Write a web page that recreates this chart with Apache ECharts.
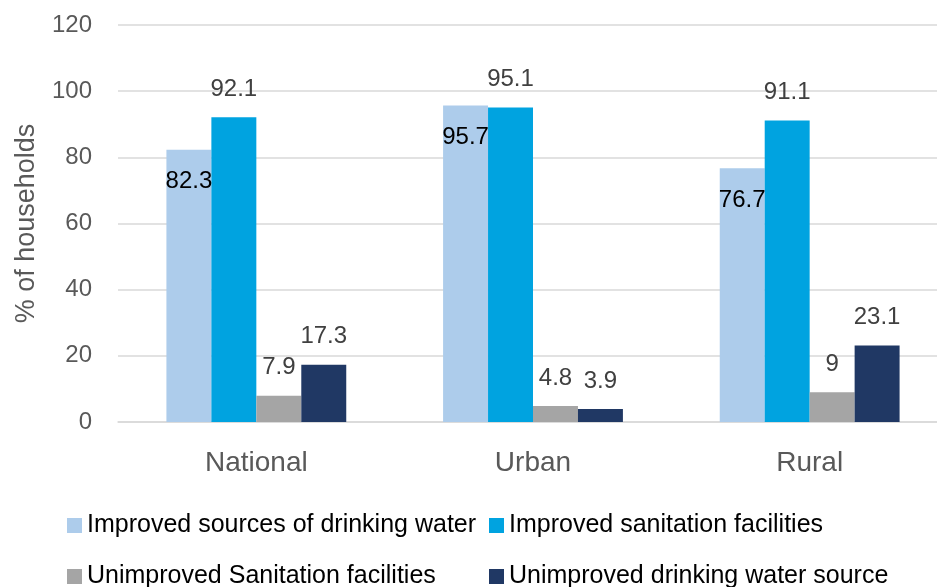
<!DOCTYPE html>
<html>
<head>
<meta charset="utf-8">
<script src="https://cdn.jsdelivr.net/npm/echarts@6/dist/echarts.min.js"></script>
<style>
  html, body { margin: 0; padding: 0; background: #fff; }
  #chart { width: 937px; height: 587px; }
</style>
</head>
<body>
<div id="chart"></div>
<script>
var categories = ['National', 'Urban', 'Rural'];
var seriesNames = [
    'Improved sources of drinking water',
    'Improved sanitation facilities',
    'Unimproved Sanitation facilities',
    'Unimproved drinking water source'
];
var improvedWater = [82.3, 95.7, 76.7];
var improvedSanitation = [92.1, 95.1, 91.1];
var unimprovedSanitation = [7.9, 4.8, 9];
var unimprovedWater = [17.3, 3.9, 23.1];
var yTicks = [0, 20, 40, 60, 80, 100, 120];

window.onload = function () {
    var font = '"Liberation Sans", Arial, sans-serif';
    var chart = echarts.init(document.getElementById('chart'));

    var labelAbove = {
        show: true,
        position: 'top',
        distance: 16,
        color: '#404040',
        fontSize: 24,
        fontFamily: font
    };

    // one legend per item so the two rows line up like the original
    var legendPos = [[62, 508], [484, 508], [62, 559], [484, 559]];
    var legends = [];
    for (var i = 0; i < seriesNames.length; i++) {
        legends.push({
            left: legendPos[i][0],
            top: legendPos[i][1],
            icon: 'rect',
            itemWidth: 15,
            itemHeight: 15,
            textStyle: { color: '#000000', fontSize: 25, fontFamily: font },
            data: [seriesNames[i]]
        });
    }

    var barBase = { type: 'bar', barGap: '0%', barCategoryGap: '35%' };

    var option = {
        animation: false,
        backgroundColor: '#fff',
        legend: legends,
        // plot runs past the right edge of the picture, as in the original
        grid: { left: 118, width: 830, top: 25, bottom: 165, outerBoundsMode: 'none' },
        xAxis: {
            type: 'category',
            data: categories,
            axisTick: { show: false },
            axisLine: { lineStyle: { color: '#D9D9D9', width: 1.5 } },
            axisLabel: { color: '#595959', fontSize: 28, fontFamily: font, margin: 27 }
        },
        yAxis: {
            type: 'value',
            min: yTicks[0],
            max: yTicks[yTicks.length - 1],
            interval: 20,
            name: '% of households',
            nameLocation: 'middle',
            nameGap: 78,
            nameTextStyle: { color: '#595959', fontSize: 27, fontFamily: font },
            axisLine: { show: false },
            axisTick: { show: false },
            axisLabel: { color: '#595959', fontSize: 24, fontFamily: font, margin: 26 },
            splitLine: { lineStyle: { color: '#D9D9D9', width: 1.5 } }
        },
        series: [
            Object.assign({}, barBase, {
                name: seriesNames[0],
                itemStyle: { color: '#ADCCEB' },
                label: {
                    show: true,
                    position: 'insideTop',
                    distance: 20,
                    color: '#000000',
                    fontSize: 24,
                    fontFamily: font
                },
                data: improvedWater
            }),
            Object.assign({}, barBase, {
                name: seriesNames[1],
                itemStyle: { color: '#00A3E0' },
                label: labelAbove,
                data: improvedSanitation
            }),
            Object.assign({}, barBase, {
                name: seriesNames[2],
                itemStyle: { color: '#A5A5A5' },
                label: labelAbove,
                data: unimprovedSanitation
            }),
            Object.assign({}, barBase, {
                name: seriesNames[3],
                itemStyle: { color: '#203864' },
                label: labelAbove,
                data: unimprovedWater
            })
        ]
    };
    chart.setOption(option);
};
</script>
</body>
</html>
